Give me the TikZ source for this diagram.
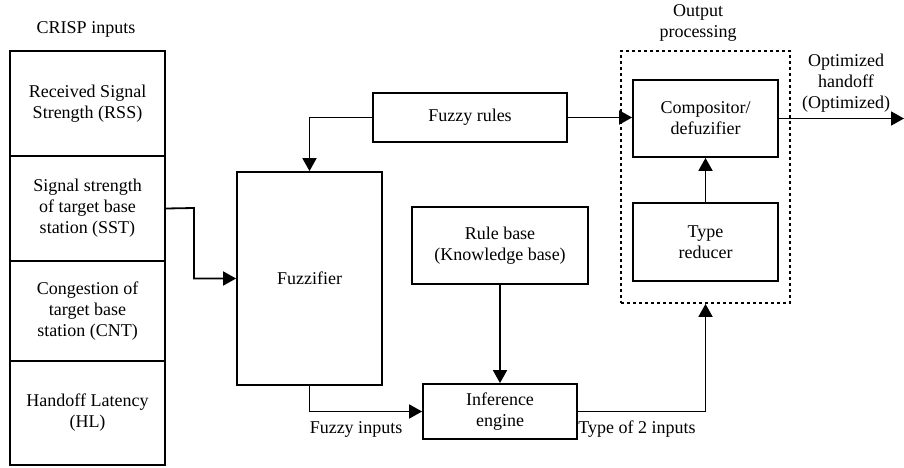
\documentclass[tikz,border=0pt]{standalone}
\usepackage{fontspec}
\setmainfont{Liberation Serif}
\usetikzlibrary{arrows.meta,positioning}
\begin{document}
\begin{tikzpicture}[x=1pt,y=-1pt,
  every node/.style={font=\fontsize{18}{21}\selectfont, align=center, inner sep=0pt},
  blk/.style={draw, line width=1.8pt, rectangle},
  cell/.style={draw, line width=2.2pt, rectangle, minimum width=155pt},
  arr/.style={line width=1.8pt, -{Triangle[length=13pt,width=14pt]}},
  dotbox/.style={draw, line width=1.8pt, dash pattern=on 3pt off 3pt}
]
\useasboundingbox (0,0) rectangle (904,468);

% crisp input stack
\node at (86,29) {CRISP inputs};
\node[cell, minimum height=105pt] (rss) at (87.5,103.5) {Received Signal\\Strength (RSS)};
\node[cell, minimum height=105pt] (sst) at (87.5,208.5) {Signal strength\\of target base\\station (SST)};
\node[cell, minimum height=100pt] (cnt) at (87.5,311) {Congestion of\\target base\\station (CNT)};
\node[cell, minimum height=104pt] (hl)  at (87.5,413) {Handoff Latency\\(HL)};

% processing blocks
\node[blk, minimum width=145pt, minimum height=213pt] (fuzz) at (309.5,278.5) {Fuzzifier};
\node[blk, minimum width=194pt, minimum height=49pt] (rules) at (470,117.5) {Fuzzy rules};
\node[blk, minimum width=176pt, minimum height=77pt] (rbase) at (500,245.5) {Rule base\\(Knowledge base)};
\node[blk, minimum width=154pt, minimum height=55pt] (inf) at (500,411.5) {Inference\\engine};

% output processing group
\node[dotbox, minimum width=169pt, minimum height=252pt] (outbox) at (705.5,177) {};
\node at (698,23) {Output\\processing};
\node[blk, minimum width=145pt, minimum height=77pt] (comp) at (705.5,118.5) {Compositor/\\defuzifier};
\node[blk, minimum width=145pt, minimum height=78pt] (tred) at (705.5,242) {Type\\reducer};

% output label and end point
\node at (846,83) {Optimized\\handoff\\(Optimized)};
\coordinate (outend) at (904,118.5);

% connection labels
\node at (356,429) {Fuzzy inputs};
\node at (637,429) {Type of 2 inputs};

% connectors
\draw[arr] (sst.east) -- (194,208) |- (fuzz.west);
\draw[arr] (rules.west) -| (fuzz.north);
\draw[arr] (rules.east) -- (comp.west |- rules.east);
\draw[arr] (rbase.south) -- (inf.north);
\draw[arr] (fuzz.south) |- (inf.west);
\draw[arr] (inf.east) -| (outbox.south);
\draw[arr] (tred.north) -- (comp.south);
\draw[arr] (comp.east) -- (outend);
\end{tikzpicture}
\end{document}
